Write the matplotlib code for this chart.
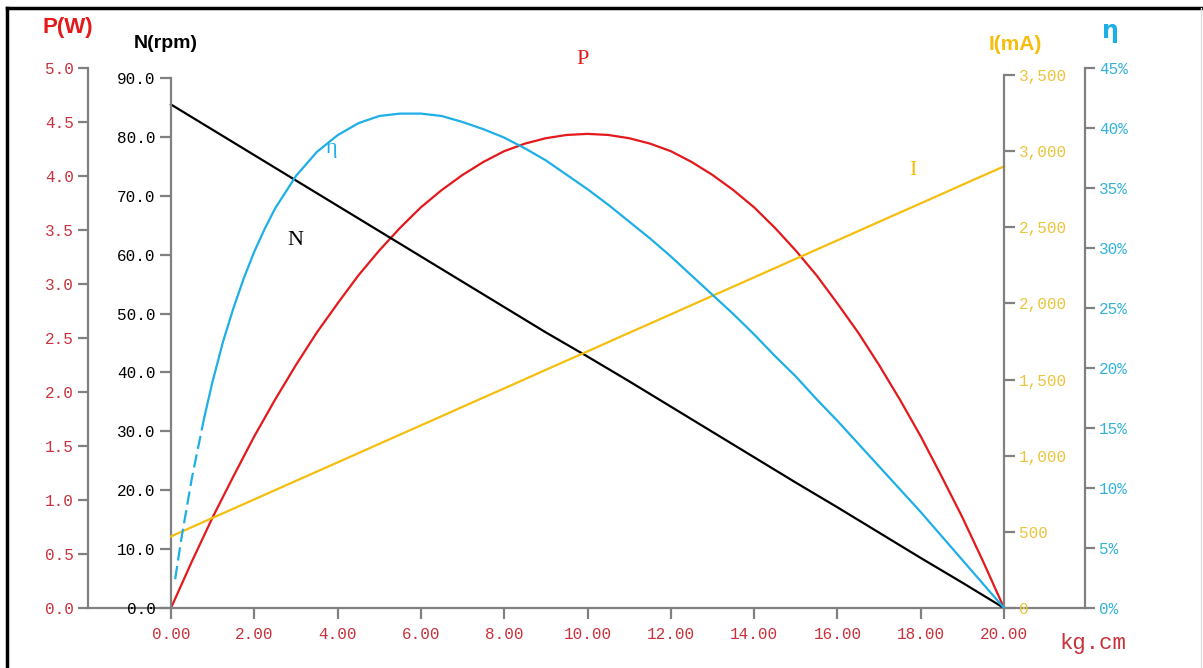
import matplotlib.pyplot as plt
from matplotlib.lines import Line2D

# torque (kg.cm) sample points
torque = [0, 1, 2, 3, 4, 5, 6, 7, 8, 9, 10, 11, 12, 13, 14, 15, 16, 17, 18, 19, 20]
speed = [85.5, 81.2, 76.9, 72.6, 68.3, 64.0, 59.7, 55.4, 51.1, 46.8, 42.7,
         38.5, 34.2, 29.9, 25.6, 21.3, 17.1, 12.8, 8.5, 4.3, 0.0]
current = [470, 592, 713, 835, 956, 1078, 1199, 1321, 1442, 1564, 1685,
           1807, 1928, 2050, 2171, 2293, 2414, 2536, 2657, 2779, 2900]

# output power, read every half unit
p_torque = [0, 0.5, 1, 1.5, 2, 2.5, 3, 3.5, 4, 4.5, 5, 5.5, 6, 6.5, 7, 7.5, 8,
            8.5, 9, 9.5, 10, 10.5, 11, 11.5, 12, 12.5, 13, 13.5, 14, 14.5, 15,
            15.5, 16, 16.5, 17, 17.5, 18, 18.5, 19, 19.5, 20]
power = [0, 0.43, 0.84, 1.22, 1.59, 1.93, 2.25, 2.55, 2.82, 3.08, 3.31, 3.52,
         3.71, 3.87, 4.01, 4.13, 4.23, 4.30, 4.35, 4.38, 4.39, 4.38, 4.35,
         4.30, 4.23, 4.13, 4.01, 3.87, 3.71, 3.52, 3.31, 3.08, 2.82, 2.55,
         2.25, 1.93, 1.59, 1.22, 0.84, 0.43, 0]

# efficiency (%), first few points drawn dashed
eta_torque_dash = [0.1, 0.25, 0.5, 0.8]
eta_dash = [2.4, 5.8, 10.8, 15.9]
eta_torque = [0.8, 1, 1.25, 1.5, 1.75, 2, 2.25, 2.5, 3, 3.5, 4, 4.5, 5, 5.5, 6,
              6.5, 7, 7.5, 8, 8.5, 9, 9.5, 10, 10.5, 11, 11.5, 12, 12.5, 13,
              13.5, 14, 14.5, 15, 15.5, 16, 16.5, 17, 17.5, 18, 18.5, 19, 19.5, 20]
eta = [15.9, 18.9, 22.2, 25.0, 27.5, 29.7, 31.6, 33.3, 36.0, 38.0, 39.4, 40.4,
       41.0, 41.2, 41.2, 41.0, 40.5, 39.9, 39.2, 38.3, 37.3, 36.1, 34.9, 33.6,
       32.2, 30.8, 29.3, 27.7, 26.1, 24.5, 22.8, 21.0, 19.3, 17.4, 15.6, 13.7,
       11.8, 9.9, 8.0, 6.0, 4.0, 2.0, 0.0]

x_ticks = [0, 2, 4, 6, 8, 10, 12, 14, 16, 18, 20]
p_ticks = [0.0, 0.5, 1.0, 1.5, 2.0, 2.5, 3.0, 3.5, 4.0, 4.5, 5.0]
n_ticks = [0, 10, 20, 30, 40, 50, 60, 70, 80, 90]
i_ticks = [0, 500, 1000, 1500, 2000, 2500, 3000, 3500]
eta_ticks = [0, 5, 10, 15, 20, 25, 30, 35, 40, 45]

RED = '#E3191C'
RED_LBL = '#C8323C'
YEL = '#F5BE0F'
YEL_LBL = '#EBC43C'
CYAN = '#1DAFE6'
CYAN_LBL = '#34B2D8'
GREY = '#808080'

W, H = 1203, 668


def fx(px):
    return px / W


def fy(py):
    return 1 - py / H


fig = plt.figure(figsize=(W / 100, H / 100), dpi=100)
ax = fig.add_axes([fx(88), fy(608), fx(1085) - fx(88), fy(68) - fy(608)])
unit = (1004 - 171) / 20
ax.set_xlim(-(171 - 88) / unit, 20 + (1085 - 1004) / unit)
ax.set_ylim(0, 5)

ax_n = ax.twinx()
ax_i = ax.twinx()
ax_e = ax.twinx()

for a in (ax, ax_n, ax_i, ax_e):
    for s in a.spines.values():
        s.set_visible(False)
    a.patch.set_visible(False)

tick_font = {'family': 'Liberation Mono', 'size': 11.5}

# P axis (far left)
ax.spines['left'].set_visible(True)
ax.spines['bottom'].set_visible(True)
for s in ('left', 'bottom'):
    ax.spines[s].set_color(GREY)
    ax.spines[s].set_linewidth(1.6)
ax.set_yticks(p_ticks)
ax.set_yticklabels([f'{v:.1f}' for v in p_ticks], fontdict=tick_font)
ax.tick_params(axis='y', colors=GREY, labelcolor=RED_LBL, length=7, width=1.6, pad=3)
ax.set_xticks(x_ticks)
ax.set_xticklabels([f'{v:.2f}' for v in x_ticks], fontdict=tick_font)
ax.tick_params(axis='x', colors=GREY, labelcolor=RED_LBL, length=8, width=1.6, pad=6)

# N axis (at x = 0)
ax_n.set_ylim(0, 90 * 540 / 530)
ax_n.spines['left'].set_visible(True)
ax_n.spines['left'].set_position(('data', 0))
ax_n.spines['left'].set_bounds(0, 90)
ax_n.spines['left'].set_color(GREY)
ax_n.spines['left'].set_linewidth(1.6)
ax_n.yaxis.set_ticks_position('left')
ax_n.set_yticks(n_ticks)
ax_n.set_yticklabels([f'{v:.1f}' for v in n_ticks], fontdict=tick_font)
ax_n.tick_params(axis='y', colors=GREY, labelcolor='black', length=8, width=1.6, pad=3)

# I axis (at x = 20)
ax_i.set_ylim(0, 3500 * 540 / 533)
ax_i.spines['right'].set_visible(True)
ax_i.spines['right'].set_position(('data', 20))
ax_i.spines['right'].set_bounds(0, 3500)
ax_i.spines['right'].set_color(GREY)
ax_i.spines['right'].set_linewidth(1.6)
ax_i.set_yticks(i_ticks)
ax_i.set_yticklabels([f'{v:,}' for v in i_ticks], fontdict=tick_font)
ax_i.tick_params(axis='y', colors=GREY, labelcolor=YEL_LBL, length=8, width=1.6, pad=3)

# efficiency axis (far right)
ax_e.set_ylim(0, 45)
ax_e.spines['right'].set_visible(True)
ax_e.spines['right'].set_color(GREY)
ax_e.spines['right'].set_linewidth(1.6)
ax_e.set_yticks(eta_ticks)
ax_e.set_yticklabels([f'{v}%' for v in eta_ticks], fontdict=tick_font)
ax_e.tick_params(axis='y', colors=GREY, labelcolor=CYAN_LBL, length=7, width=1.6, pad=3)

# curves
ax_i.plot(torque, current, color=YEL, lw=1.6)
ax_n.plot(torque, speed, color='black', lw=1.6)
ax_e.plot(eta_torque, eta, color=CYAN, lw=1.6)
ax_e.plot(eta_torque_dash, eta_dash, color=CYAN, lw=1.6, linestyle=(0, (6, 2.5)))
ax.plot(p_torque, power, color=RED, lw=1.6)

# axis titles
fig.text(fx(68), fy(27), 'P(W)', color=RED, fontsize=16, fontweight='bold',
         family='Liberation Sans', ha='center', va='center')
fig.text(fx(166), fy(43), 'N(rpm)', color='black', fontsize=14, fontweight='bold',
         family='Liberation Sans', ha='center', va='center')
fig.text(fx(1015), fy(45), 'I(mA)', color=YEL, fontsize=15, fontweight='bold',
         family='Liberation Sans', ha='center', va='center')
fig.text(fx(1110), fy(31), 'η', color=CYAN, fontsize=17, fontweight='bold',
         family='DejaVu Sans', ha='center', va='center')
fig.text(fx(1093), fy(643), 'kg.cm', color=RED_LBL, fontsize=16,
         family='Liberation Mono', ha='center', va='center')

# series labels
serif = 'Liberation Serif'
fig.text(fx(583), fy(60), 'P', color=RED, fontsize=16, family=serif, ha='center', va='center')
fig.text(fx(332), fy(148), 'η', color=CYAN, fontsize=16, family=serif, ha='center', va='center')
fig.text(fx(295), fy(241), 'N', color='black', fontsize=16, family=serif, ha='center', va='center')
fig.text(fx(913), fy(171), 'I', color=YEL, fontsize=16, family=serif, ha='center', va='center')

# outer frame
fig.add_artist(Line2D([fx(7), fx(1203)], [fy(8), fy(8)], color='black', lw=2.5))
fig.add_artist(Line2D([fx(7), fx(7)], [fy(8), fy(668)], color='black', lw=2.5))
fig.add_artist(Line2D([fx(1201), fx(1201)], [fy(8), fy(668)], color='#dddddd', lw=1))

fig.savefig('out.png', dpi=100)
